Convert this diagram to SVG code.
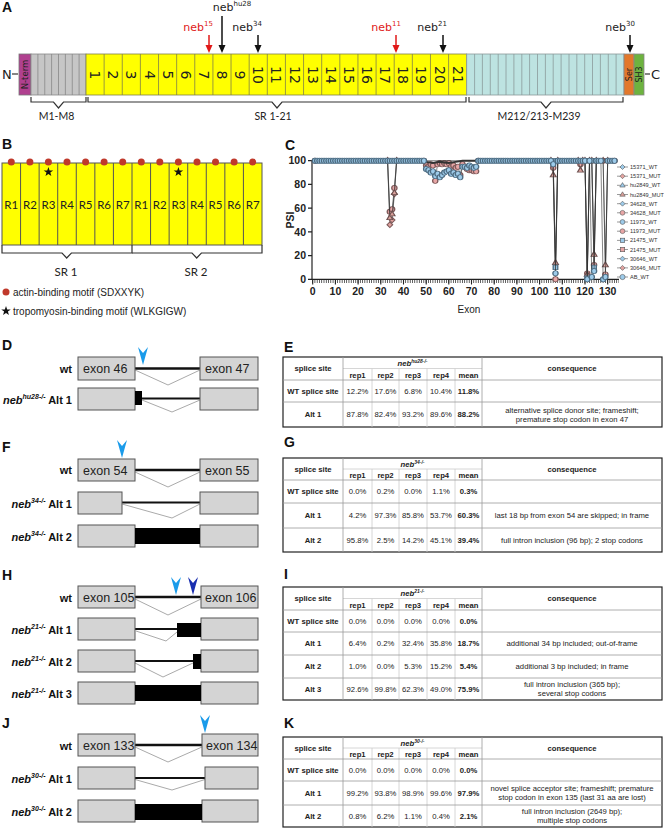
<svg xmlns="http://www.w3.org/2000/svg" width="664" height="828" viewBox="0 0 664 828">
<style>
.pl{font:bold 14px "Liberation Sans",Arial,sans-serif;fill:#111}
.dv{font-family:"DejaVu Sans",Verdana,sans-serif;fill:#222}
.num{font:14px "DejaVu Sans",Verdana,sans-serif;fill:#222;text-anchor:middle;dominant-baseline:central}
.os{font-family:Lato,"Open Sans",sans-serif;fill:#222}
.ls{font-family:"Liberation Sans",Arial,sans-serif;fill:#222}
.br{fill:none;stroke:#333;stroke-width:1.2}
.ex{fill:#d4d4d4;stroke:#555;stroke-width:1}
.intr{stroke:#111;stroke-width:2.5}
.thin{stroke:#111;stroke-width:2}
.sp{fill:none;stroke:#aaa;stroke-width:1}
.lab{font:bold 11px "Liberation Sans",Arial,sans-serif;text-anchor:end;fill:#111}
.ext{font:12.5px "Liberation Sans",Arial,sans-serif;fill:#222}
.tbox{fill:#fff;stroke:#222;stroke-width:1.2}
.tl{fill:none;stroke:#999;stroke-width:0.8}
.tli{fill:none;stroke:#ccc;stroke-width:0.8}
.tt{font:7.7px "Liberation Sans",Arial,sans-serif;fill:#222;text-anchor:middle}
.b{font-weight:bold}
.dl{fill:none;stroke:#333;stroke-width:0.6;vector-effect:non-scaling-stroke}
.ax{font:bold 10.5px "Liberation Sans",Arial,sans-serif;fill:#222}
.lg{font:5.6px "Liberation Sans",Arial,sans-serif;fill:#333}
</style>
<defs>
<polygon id="star" points="0,-5 1.18,-1.62 4.76,-1.55 1.9,0.62 2.94,4.05 0,2 -2.94,4.05 -1.9,0.62 -4.76,-1.55 -1.18,-1.62" fill="#111"/>
<path id="bah" d="M-5,-18 L0,-12 L5,-18 L0,0 Z"/>
<marker id="mcb" markerUnits="userSpaceOnUse" overflow="visible"><ellipse rx="1.15" ry="2.2" fill="#9dcbea" stroke="#4d6b80" stroke-width="0.6" vector-effect="non-scaling-stroke"/></marker>
<marker id="mcp" markerUnits="userSpaceOnUse" overflow="visible"><ellipse rx="1.15" ry="2.2" fill="#e8a6a6" stroke="#7d5a5a" stroke-width="0.6" vector-effect="non-scaling-stroke"/></marker>
<marker id="mdp" markerUnits="userSpaceOnUse" overflow="visible"><polygon points="0,2.4 1.25,0 0,-2.4 -1.25,0" fill="#e3a3a0" stroke="#7d5a5a" stroke-width="0.6" vector-effect="non-scaling-stroke"/></marker>
<marker id="mtb" markerUnits="userSpaceOnUse" overflow="visible"><polygon points="0,2.6 1.3,-1.6 -1.3,-1.6" fill="#d9a09a" stroke="#6d5050" stroke-width="0.6" vector-effect="non-scaling-stroke"/></marker>
<marker id="msb" markerUnits="userSpaceOnUse" overflow="visible"><rect x="-1" y="-1.9" width="2" height="3.8" fill="#9dcbea" stroke="#4d6b80" stroke-width="0.6" vector-effect="non-scaling-stroke"/></marker>
</defs>
<rect width="664" height="828" fill="#fff"/>

<g id="panelA">
<text class="pl" x="2" y="12">A</text>
<text class="dv" x="2" y="79" font-size="13">N</text>
<line x1="12" y1="74" x2="18" y2="74" stroke="#333" stroke-width="1.2"/>
<rect x="19" y="54" width="12" height="41" fill="#b0408f" stroke="#777" stroke-width="0.8"/>
<text class="dv" font-size="8.5" text-anchor="middle" dominant-baseline="central" transform="translate(25 74.5) rotate(-90)">N-term</text>
<rect x="31" y="54" width="55" height="41" fill="#c6c6c6" stroke="#888" stroke-width="0.8"/>
<path d="M37.9,54V95M44.75,54V95M51.6,54V95M58.5,54V95M65.4,54V95M72.25,54V95M79.1,54V95" stroke="#888" stroke-width="0.8"/>
<rect x="86" y="54" width="380.7" height="41" fill="#ffff00" stroke="#80804a" stroke-width="0.8"/>
<path d="M104.13,54V95M122.26,54V95M140.39,54V95M158.52,54V95M176.65,54V95M194.78,54V95M212.91,54V95M231.04,54V95M249.17,54V95M267.3,54V95M285.43,54V95M303.56,54V95M321.69,54V95M339.82,54V95M357.95,54V95M376.08,54V95M394.21,54V95M412.34,54V95M430.47,54V95M448.6,54V95" stroke="#80804a" stroke-width="0.8"/>
<rect x="466.7" y="54" width="157.3" height="41" fill="#bde3e1" stroke="#8a9a9a" stroke-width="0.8"/>
<path d="M474.6,54V95M482.4,54V95M490.3,54V95M498.2,54V95M506,54V95M513.9,54V95M521.8,54V95M529.6,54V95M537.5,54V95M545.4,54V95M553.2,54V95M561.1,54V95M569,54V95M576.8,54V95M584.7,54V95M592.5,54V95M600.4,54V95M608.3,54V95M616.1,54V95" stroke="#8a9a9a" stroke-width="0.8"/>
<rect x="624" y="54" width="10" height="41" fill="#e2782b" stroke="#888" stroke-width="0.8"/>
<rect x="634" y="54" width="10" height="41" fill="#6db33f" stroke="#888" stroke-width="0.8"/>
<text class="dv" font-size="8" text-anchor="middle" dominant-baseline="central" transform="translate(629 74.5) rotate(-90)">Ser</text>
<text class="dv" font-size="8" text-anchor="middle" dominant-baseline="central" transform="translate(639 74.5) rotate(-90)">SH3</text>
<line x1="645" y1="74" x2="650" y2="74" stroke="#333" stroke-width="1.2"/>
<text class="dv" x="651" y="79" font-size="13">C</text>
<g>
<text class="num" transform="translate(95.07 75) rotate(90)">1</text>
<text class="num" transform="translate(113.2 75) rotate(90)">2</text>
<text class="num" transform="translate(131.3 75) rotate(90)">3</text>
<text class="num" transform="translate(149.5 75) rotate(90)">4</text>
<text class="num" transform="translate(167.6 75) rotate(90)">5</text>
<text class="num" transform="translate(185.7 75) rotate(90)">6</text>
<text class="num" transform="translate(203.8 75) rotate(90)">7</text>
<text class="num" transform="translate(222 75) rotate(90)">8</text>
<text class="num" transform="translate(240.1 75) rotate(90)">9</text>
<text class="num" transform="translate(258.2 75) rotate(90)">10</text>
<text class="num" transform="translate(276.4 75) rotate(90)">11</text>
<text class="num" transform="translate(294.5 75) rotate(90)">12</text>
<text class="num" transform="translate(312.6 75) rotate(90)">13</text>
<text class="num" transform="translate(330.8 75) rotate(90)">14</text>
<text class="num" transform="translate(348.9 75) rotate(90)">15</text>
<text class="num" transform="translate(367 75) rotate(90)">16</text>
<text class="num" transform="translate(385.1 75) rotate(90)">17</text>
<text class="num" transform="translate(403.3 75) rotate(90)">18</text>
<text class="num" transform="translate(421.4 75) rotate(90)">19</text>
<text class="num" transform="translate(439.5 75) rotate(90)">20</text>
<text class="num" transform="translate(457.7 75) rotate(90)">21</text>
</g>
<g id="mutations">
<text class="dv" x="232" y="11" font-size="11" text-anchor="middle">neb<tspan font-size="7" dy="-5">hu28</tspan></text>
<line x1="222" y1="16" x2="222" y2="46" stroke="#111" stroke-width="1.5"/><polygon points="218.5,45 225.5,45 222,53" fill="#111"/>
<text class="dv" x="213" y="31" font-size="11" text-anchor="end" style="fill:#e01818">neb<tspan font-size="7" dy="-5">15</tspan></text>
<line x1="209" y1="35" x2="209" y2="46" stroke="#e01818" stroke-width="1.5"/><polygon points="205.5,45 212.5,45 209,53" fill="#e01818"/>
<text class="dv" x="262" y="31" font-size="11" text-anchor="end">neb<tspan font-size="7" dy="-5">34</tspan></text>
<line x1="258" y1="35" x2="258" y2="46" stroke="#111" stroke-width="1.5"/><polygon points="254.5,45 261.5,45 258,53" fill="#111"/>
<text class="dv" x="401" y="31" font-size="11" text-anchor="end" style="fill:#e01818">neb<tspan font-size="7" dy="-5">11</tspan></text>
<line x1="396" y1="35" x2="396" y2="46" stroke="#e01818" stroke-width="1.5"/><polygon points="392.5,45 399.5,45 396,53" fill="#e01818"/>
<text class="dv" x="447" y="31" font-size="11" text-anchor="end">neb<tspan font-size="7" dy="-5">21</tspan></text>
<line x1="443" y1="35" x2="443" y2="46" stroke="#111" stroke-width="1.5"/><polygon points="439.5,45 446.5,45 443,53" fill="#111"/>
<text class="dv" x="635" y="31" font-size="11" text-anchor="end">neb<tspan font-size="7" dy="-5">30</tspan></text>
<line x1="630" y1="35" x2="630" y2="46" stroke="#111" stroke-width="1.5"/><polygon points="626.5,45 633.5,45 630,53" fill="#111"/>
</g>
<path class="br" d="M31,97V102H53.5L58.5,108L63.5,102H86V97"/>
<path class="br" d="M88,97V102H272L277,108L282,102H466V97"/>
<path class="br" d="M469,97V102H541L546,108L551,102H623V97"/>
<text class="os" x="56.5" y="120" font-size="10.5" text-anchor="middle">M1-M8</text>
<text class="os" x="273" y="120" font-size="10.5" text-anchor="middle">SR 1-21</text>
<text class="os" x="539" y="120" font-size="10.5" text-anchor="middle">M212/213-M239</text>
</g>

<g id="panelB">
<text class="pl" x="2" y="149">B</text>
<rect x="2" y="163" width="260" height="82" fill="#ffff00" stroke="#555" stroke-width="1"/>
<path d="M20.57,163V245M39.14,163V245M57.71,163V245M76.28,163V245M94.85,163V245M113.42,163V245M132,163V245M150.57,163V245M169.14,163V245M187.71,163V245M206.28,163V245M224.85,163V245M243.42,163V245" stroke="#555" stroke-width="1"/>
<g fill="#c0392b">
<circle cx="11.3" cy="162" r="3.5"/><circle cx="29.9" cy="162" r="3.5"/><circle cx="48.4" cy="162" r="3.5"/><circle cx="67" cy="162" r="3.5"/><circle cx="85.6" cy="162" r="3.5"/><circle cx="104.1" cy="162" r="3.5"/><circle cx="122.7" cy="162" r="3.5"/><circle cx="141.3" cy="162" r="3.5"/><circle cx="159.8" cy="162" r="3.5"/><circle cx="178.4" cy="162" r="3.5"/><circle cx="197" cy="162" r="3.5"/><circle cx="215.5" cy="162" r="3.5"/><circle cx="234.1" cy="162" r="3.5"/><circle cx="252.7" cy="162" r="3.5"/>
</g>
<use href="#star" x="48.4" y="172"/>
<use href="#star" x="178.4" y="172"/>
<g class="os" font-size="11.5" text-anchor="middle">
<text x="11.3" y="209">R1</text><text x="29.9" y="209">R2</text><text x="48.4" y="209">R3</text><text x="67" y="209">R4</text><text x="85.6" y="209">R5</text><text x="104.1" y="209">R6</text><text x="122.7" y="209">R7</text>
<text x="141.3" y="209">R1</text><text x="159.8" y="209">R2</text><text x="178.4" y="209">R3</text><text x="197" y="209">R4</text><text x="215.5" y="209">R5</text><text x="234.1" y="209">R6</text><text x="252.7" y="209">R7</text>
</g>
<path class="br" d="M2,245V253H62L66.7,258L71.4,253H132V245"/>
<path class="br" d="M132,253H192L196.7,258L201.4,253H262V245"/>
<text class="os" x="66" y="276" font-size="11.5" text-anchor="middle">SR 1</text>
<text class="os" x="196" y="276" font-size="11.5" text-anchor="middle">SR 2</text>
<circle cx="6" cy="292" r="3.5" fill="#c0392b"/>
<text class="ls" x="13" y="295.5" font-size="10">actin-binding motif (SDXXYK)</text>
<use href="#star" x="6" y="311"/>
<text class="ls" x="13" y="314.5" font-size="10">tropomyosin-binding motif (WLKGIGW)</text>
</g>

<g id="panelC">
<text class="pl" x="285" y="150">C</text>
<line x1="312" y1="160" x2="312" y2="279.3" stroke="#222" stroke-width="1.2"/>
<path d="M308,279.3H312M308,255.6H312M308,231.9H312M308,208.1H312M308,184.4H312M308,160.7H312" stroke="#222" stroke-width="1.2"/>
<g class="ax" text-anchor="end">
<text x="306" y="283">0</text><text x="306" y="259.3">20</text><text x="306" y="235.6">40</text><text x="306" y="211.8">60</text><text x="306" y="188.1">80</text><text x="306" y="164.4">100</text>
</g>
<text class="ax" transform="translate(294 220) rotate(-90)" text-anchor="middle">PSI</text>
<line x1="312" y1="279.3" x2="619" y2="279.3" stroke="#222" stroke-width="1.2"/>
<line x1="312.3" y1="281.2" x2="619" y2="281.2" stroke="#222" stroke-width="3.6" stroke-dasharray="0.7 1.569"/>
<path d="M312.7,279V284.5M335.4,279V284.5M358.1,279V284.5M380.8,279V284.5M403.5,279V284.5M426.2,279V284.5M448.8,279V284.5M471.5,279V284.5M494.2,279V284.5M516.9,279V284.5M539.6,279V284.5M562.3,279V284.5M585,279V284.5M607.7,279V284.5" stroke="#222" stroke-width="1.1"/>
<g class="ax" font-size="10" text-anchor="middle">
<text x="312.7" y="295">0</text><text x="335.4" y="295">10</text><text x="358.1" y="295">20</text><text x="380.8" y="295">30</text><text x="403.5" y="295">40</text><text x="426.2" y="295">50</text><text x="448.8" y="295">60</text><text x="471.5" y="295">70</text><text x="494.2" y="295">80</text><text x="516.9" y="295">90</text><text x="539.6" y="295">100</text><text x="562.3" y="295">110</text><text x="585" y="295">120</text><text x="607.7" y="295">130</text>
</g>
<text class="ls" x="469" y="313" font-size="10" text-anchor="middle">Exon</text>
<g id="plotdata" transform="translate(312.7 279.3) scale(2.269 -1.186)">
<polyline class="dl" marker-start="url(#mcp)" marker-mid="url(#mcp)" marker-end="url(#mcp)" points="1,100 33,100 34,57 35,59 36,77 37,100 49,100 50,96 51,95 52,97 53,96 54,83 55,97 56,98 57,97 58,98 59,97 60,98 61,95 62,96 63,94 64,95 65,88 66,97 67,95 68,93 69,92 70,92 71,91 72,91 73,100 105,100 106,94 107,0 108,100 117,100 118,97 119,100 120,100 121,5 122,100 123,100 124,12 125,100 128,100 129,4 130,100 133,100"/>
<polyline class="dl" marker-start="url(#mdp)" marker-mid="url(#mdp)" marker-end="url(#mdp)" points="33,100 34,46 35,50 36,72 37,100"/>
<polyline class="dl" marker-start="url(#mtb)" marker-mid="url(#mtb)" marker-end="url(#mtb)" points="33,100 34,52 35,55 36,73 37,100 105,100 106,88 107,14 108,100 117,100 118,92 119,100 120,100 121,4 122,100 123,100 124,21 125,100 128,100 129,12 130,100"/>
<polyline class="dl" marker-start="url(#msb)" marker-mid="url(#msb)" marker-end="url(#msb)" points="106,100 107,10 108,100 120,100 121,1 122,100 123,100 124,10 125,100"/>
<polyline class="dl" points="50,99 53,98 56,99 60,98 63,99 66,100 72,100" style="stroke-width:2"/>
<polyline class="dl" marker-start="url(#mcb)" marker-mid="url(#mcb)" marker-end="url(#mcb)" points="1,100 2,100 3,100 4,100 5,100 6,100 7,100 8,100 9,100 10,100 11,100 12,100 13,100 14,100 15,100 16,100 17,100 18,100 19,100 20,100 21,100 22,100 23,100 24,100 25,100 26,100 27,100 28,100 29,100 30,100 31,100 32,100 33,100 34,100 35,100 36,100 37,100 38,100 39,100 40,100 41,100 42,100 43,100 44,100 45,100 46,100 47,100 48,100 49,100 50,93 51,92 52,90 53,91 54,87 55,89 56,86 57,88 58,90 59,91 60,92 61,89 62,90 63,88 64,89 65,86 66,95 67,95 68,94 69,96 70,95 71,94 72,95 73,100 74,100 75,100 76,100 77,100 78,100 79,100 80,100 81,100 82,100 83,100 84,100 85,100 86,100 87,100 88,100 89,100 90,100 91,100 92,100 93,100 94,100 95,100 96,100 97,100 98,100 99,100 100,100 101,100 102,100 103,100 104,100 105,100 106,97 107,5 108,100 109,100 110,100 111,100 112,100 113,100 114,100 115,100 116,100 117,100 118,100 119,100 120,100 121,0 122,100 123,2 124,7 125,100 126,100 127,100 128,0 129,2 130,100 131,100 132,100 133,100"/>
</g>
<g id="legend">
<path d="M617,167H628M617,176.2H628M617,185.3H628M617,194.5H628M617,203.7H628M617,212.8H628M617,222H628M617,231.2H628M617,240.4H628M617,249.5H628M617,258.7H628M617,267.9H628M617,277H628" stroke="#555" stroke-width="0.6"/>
<g stroke="#555" stroke-width="0.6">
<polygon points="622.5,164.5 625,167 622.5,169.5 620,167" fill="#9dcbea"/>
<polygon points="622.5,173.7 625,176.2 622.5,178.7 620,176.2" fill="#e3a3a0"/>
<polygon points="622.5,182.6 625.2,187 619.8,187" fill="#9dcbea"/>
<polygon points="622.5,191.8 625.2,196.2 619.8,196.2" fill="#d9a09a"/>
<polygon points="622.5,201.2 625,203.7 622.5,206.2 620,203.7" fill="#9dcbea"/>
<circle cx="622.5" cy="212.8" r="2.4" fill="#e8a6a6"/>
<circle cx="622.5" cy="222" r="2.4" fill="#9dcbea"/>
<circle cx="622.5" cy="231.2" r="2.4" fill="#e8a6a6"/>
<rect x="620.3" y="238.2" width="4.4" height="4.4" fill="#9dcbea"/>
<rect x="620.3" y="247.3" width="4.4" height="4.4" fill="#e8a6a6"/>
<polygon points="622.5,256.2 625,258.7 622.5,261.2 620,258.7" fill="#9dcbea"/>
<polygon points="622.5,265.4 625,267.9 622.5,270.4 620,267.9" fill="#e3a3a0"/>
<circle cx="622.5" cy="277" r="2.6" fill="#9dcbea"/>
</g>
<g class="lg">
<text x="630" y="169">15371_WT</text><text x="630" y="178.2">15371_MUT</text><text x="630" y="187.3">hu2849_WT</text><text x="630" y="196.5">hu2849_MUT</text><text x="630" y="205.7">34628_WT</text><text x="630" y="214.8">34628_MUT</text><text x="630" y="224">11973_WT</text><text x="630" y="233.2">11973_MUT</text><text x="630" y="242.4">21475_WT</text><text x="630" y="251.5">21475_MUT</text><text x="630" y="260.7">30646_WT</text><text x="630" y="269.9">30646_MUT</text><text x="630" y="279">AB_WT</text>
</g>
</g>
</g>

<g id="panelD">
<text class="pl" x="2" y="350">D</text>
<text class="lab" x="72" y="373">wt</text>
<line class="intr" x1="135" y1="368.5" x2="200" y2="368.5"/>
<polyline class="sp" points="135,370 168,385 200,370"/>
<rect class="ex" x="78" y="357" width="57" height="23"/><rect class="ex" x="200" y="357" width="58" height="23"/>
<text class="ext" x="83" y="373">exon 46</text><text class="ext" x="205" y="373">exon 47</text>
<use href="#bah" x="143" y="365" fill="#1a9bea"/>
<text class="lab" x="72" y="403.5"><tspan font-style="italic">neb</tspan><tspan font-style="italic" font-size="7" dy="-5">hu28-/-</tspan><tspan dy="5"> Alt 1</tspan></text>
<line class="thin" x1="142" y1="398.5" x2="200" y2="398.5"/>
<polyline class="sp" points="142,400 172,412 200,400"/>
<rect class="ex" x="78" y="388" width="57" height="22"/><rect class="ex" x="200" y="388" width="58" height="22"/>
<rect x="135" y="391" width="7" height="14" fill="#000"/>
</g>

<g id="panelF">
<text class="pl" x="2" y="452">F</text>
<text class="lab" x="72" y="474">wt</text>
<line class="intr" x1="135" y1="470" x2="200" y2="470"/>
<polyline class="sp" points="135,472 168,487 200,472"/>
<rect class="ex" x="78" y="459" width="57" height="22"/><rect class="ex" x="200" y="459" width="58" height="22"/>
<text class="ext" x="83" y="474.5">exon 54</text><text class="ext" x="205" y="474.5">exon 55</text>
<use href="#bah" x="122" y="458" fill="#1a9bea"/>
<text class="lab" x="72" y="507.5"><tspan font-style="italic">neb</tspan><tspan font-style="italic" font-size="7" dy="-5">34-/-</tspan><tspan dy="5"> Alt 1</tspan></text>
<line class="thin" x1="122" y1="502.5" x2="200" y2="502.5"/>
<polyline class="sp" points="122,504 172,518 200,504"/>
<rect class="ex" x="78" y="492" width="44" height="22"/><rect class="ex" x="200" y="492" width="58" height="22"/>
<text class="lab" x="72" y="540.5"><tspan font-style="italic">neb</tspan><tspan font-style="italic" font-size="7" dy="-5">34-/-</tspan><tspan dy="5"> Alt 2</tspan></text>
<rect class="ex" x="78" y="525" width="57" height="22"/><rect class="ex" x="200" y="525" width="58" height="22"/>
<rect x="135" y="528" width="65" height="16" fill="#000"/>
</g>

<g id="panelH">
<text class="pl" x="2" y="580">H</text>
<text class="lab" x="72" y="601.5">wt</text>
<line class="intr" x1="135" y1="597" x2="201" y2="597"/>
<polyline class="sp" points="135,599 168,615 201,599"/>
<rect class="ex" x="78" y="586" width="57" height="22"/><rect class="ex" x="201" y="586" width="57" height="22"/>
<text class="ext" x="83" y="601.5">exon 105</text><text class="ext" x="205" y="601.5">exon 106</text>
<use href="#bah" x="176" y="595" fill="#1a9bea"/>
<use href="#bah" x="193" y="595" fill="#1a2fb0"/>
<text class="lab" x="72" y="633.5"><tspan font-style="italic">neb</tspan><tspan font-style="italic" font-size="7" dy="-5">21-/-</tspan><tspan dy="5"> Alt 1</tspan></text>
<line class="thin" x1="135" y1="629" x2="177" y2="629"/>
<polyline class="sp" points="136,631 166,641 177,632"/>
<rect class="ex" x="78" y="618" width="57" height="22"/><rect class="ex" x="201" y="618" width="57" height="22"/>
<rect x="177" y="623" width="24" height="14" fill="#000"/>
<text class="lab" x="72" y="665.5"><tspan font-style="italic">neb</tspan><tspan font-style="italic" font-size="7" dy="-5">21-/-</tspan><tspan dy="5"> Alt 2</tspan></text>
<line class="thin" x1="135" y1="661" x2="193" y2="661"/>
<polyline class="sp" points="135,663 163,677 193,663"/>
<rect class="ex" x="78" y="650" width="57" height="22"/><rect class="ex" x="201" y="650" width="57" height="22"/>
<rect x="193" y="654" width="8" height="15" fill="#000"/>
<text class="lab" x="72" y="697.5"><tspan font-style="italic">neb</tspan><tspan font-style="italic" font-size="7" dy="-5">21-/-</tspan><tspan dy="5"> Alt 3</tspan></text>
<rect class="ex" x="78" y="682" width="57" height="22"/><rect class="ex" x="201" y="682" width="57" height="22"/>
<rect x="135" y="685" width="66" height="16" fill="#000"/>
</g>

<g id="panelJ">
<text class="pl" x="2" y="728">J</text>
<text class="lab" x="72" y="749.5">wt</text>
<line class="intr" x1="135" y1="745" x2="202" y2="745"/>
<polyline class="sp" points="135,747 168,762 202,747"/>
<rect class="ex" x="78" y="734" width="57" height="22"/><rect class="ex" x="202" y="734" width="56" height="22"/>
<text class="ext" x="83" y="749.5">exon 133</text><text class="ext" x="206" y="749.5">exon 134</text>
<use href="#bah" x="205" y="733" fill="#1a9bea"/>
<text class="lab" x="72" y="782.5"><tspan font-style="italic">neb</tspan><tspan font-style="italic" font-size="7" dy="-5">30-/-</tspan><tspan dy="5"> Alt 1</tspan></text>
<line class="thin" x1="135" y1="778" x2="205" y2="778"/>
<polyline class="sp" points="135,779.5 172,790 205,779.5"/>
<rect class="ex" x="78" y="767" width="57" height="22"/><rect class="ex" x="205" y="767" width="53" height="22"/>
<text class="lab" x="72" y="815.5"><tspan font-style="italic">neb</tspan><tspan font-style="italic" font-size="7" dy="-5">30-/-</tspan><tspan dy="5"> Alt 2</tspan></text>
<rect class="ex" x="78" y="800" width="57" height="22"/><rect class="ex" x="202" y="800" width="56" height="22"/>
<rect x="135" y="804" width="67" height="16" fill="#000"/>
</g>

<g id="tableE">
<text class="pl" x="284" y="352">E</text>
<rect class="tbox" x="283" y="357" width="379" height="70"/>
<path class="tli" d="M343,368.5H482M372,368.5V427M399,368.5V427M427,368.5V427M455,368.5V427"/>
<path class="tl" d="M343,357V427M482,357V427M283,380H662M283,402H662"/>
<g class="tt">
<text class="b" x="313" y="371.2">splice site</text><text class="b" x="572" y="371.2">consequence</text>
<text class="b" x="412.5" y="366" font-style="italic">neb<tspan font-size="5" dy="-3">hu28-/-</tspan></text>
<text class="b" x="357.5" y="377.5">rep1</text><text class="b" x="385.5" y="377.5">rep2</text><text class="b" x="413" y="377.5">rep3</text><text class="b" x="441" y="377.5">rep4</text><text class="b" x="468.5" y="377.5">mean</text>
<text class="b" x="313" y="393.7">WT splice site</text><text x="357.5" y="393.7">12.2%</text><text x="385.5" y="393.7">17.6%</text><text x="413" y="393.7">6.8%</text><text x="441" y="393.7">10.4%</text><text class="b" x="468.5" y="393.7">11.8%</text>
<text class="b" x="313" y="417.2">Alt 1</text><text x="357.5" y="417.2">87.8%</text><text x="385.5" y="417.2">82.4%</text><text x="413" y="417.2">93.2%</text><text x="441" y="417.2">89.6%</text><text class="b" x="468.5" y="417.2">88.2%</text>
<text x="572" y="412.5">alternative splice donor site; frameshift;</text><text x="572" y="421.5">premature stop codon in exon 47</text>
</g>
</g>

<g id="tableG">
<text class="pl" x="284" y="447">G</text>
<rect class="tbox" x="283" y="458" width="379" height="94"/>
<path class="tli" d="M343,469H482M372,469V552M399,469V552M427,469V552M455,469V552"/>
<path class="tl" d="M343,458V552M482,458V552M283,480H662M283,503H662M283,528H662"/>
<g class="tt">
<text class="b" x="313" y="471.7">splice site</text><text class="b" x="572" y="471.7">consequence</text>
<text class="b" x="412.5" y="466.5" font-style="italic">neb<tspan font-size="5" dy="-3">34-/-</tspan></text>
<text class="b" x="357.5" y="477.5">rep1</text><text class="b" x="385.5" y="477.5">rep2</text><text class="b" x="413" y="477.5">rep3</text><text class="b" x="441" y="477.5">rep4</text><text class="b" x="468.5" y="477.5">mean</text>
<text class="b" x="313" y="494.2">WT splice site</text><text x="357.5" y="494.2">0.0%</text><text x="385.5" y="494.2">0.2%</text><text x="413" y="494.2">0.0%</text><text x="441" y="494.2">1.1%</text><text class="b" x="468.5" y="494.2">0.3%</text>
<text class="b" x="313" y="518.2">Alt 1</text><text x="357.5" y="518.2">4.2%</text><text x="385.5" y="518.2">97.3%</text><text x="413" y="518.2">85.8%</text><text x="441" y="518.2">53.7%</text><text class="b" x="468.5" y="518.2">60.3%</text>
<text x="572" y="518.2">last 18 bp from exon 54 are skipped; in frame</text>
<text class="b" x="313" y="542.7">Alt 2</text><text x="357.5" y="542.7">95.8%</text><text x="385.5" y="542.7">2.5%</text><text x="413" y="542.7">14.2%</text><text x="441" y="542.7">45.1%</text><text class="b" x="468.5" y="542.7">39.4%</text>
<text x="572" y="542.7">full intron inclusion (96 bp); 2 stop codons</text>
</g>
</g>

<g id="tableI">
<text class="pl" x="284" y="579">I</text>
<rect class="tbox" x="283" y="587" width="379" height="113"/>
<path class="tli" d="M343,598.5H482M372,598.5V700M399,598.5V700M427,598.5V700M455,598.5V700"/>
<path class="tl" d="M343,587V700M482,587V700M283,610H662M283,632H662M283,655H662M283,678H662"/>
<g class="tt">
<text class="b" x="313" y="601.2">splice site</text><text class="b" x="572" y="601.2">consequence</text>
<text class="b" x="412.5" y="596" font-style="italic">neb<tspan font-size="5" dy="-3">21-/-</tspan></text>
<text class="b" x="357.5" y="607.5">rep1</text><text class="b" x="385.5" y="607.5">rep2</text><text class="b" x="413" y="607.5">rep3</text><text class="b" x="441" y="607.5">rep4</text><text class="b" x="468.5" y="607.5">mean</text>
<text class="b" x="313" y="623.7">WT splice site</text><text x="357.5" y="623.7">0.0%</text><text x="385.5" y="623.7">0.0%</text><text x="413" y="623.7">0.0%</text><text x="441" y="623.7">0.0%</text><text class="b" x="468.5" y="623.7">0.0%</text>
<text class="b" x="313" y="646.2">Alt 1</text><text x="357.5" y="646.2">6.4%</text><text x="385.5" y="646.2">0.2%</text><text x="413" y="646.2">32.4%</text><text x="441" y="646.2">35.8%</text><text class="b" x="468.5" y="646.2">18.7%</text>
<text x="572" y="646.2">additional 34 bp included; out-of-frame</text>
<text class="b" x="313" y="669.2">Alt 2</text><text x="357.5" y="669.2">1.0%</text><text x="385.5" y="669.2">0.0%</text><text x="413" y="669.2">5.3%</text><text x="441" y="669.2">15.2%</text><text class="b" x="468.5" y="669.2">5.4%</text>
<text x="572" y="669.2">additional 3 bp included; in frame</text>
<text class="b" x="313" y="691.7">Alt 3</text><text x="357.5" y="691.7">92.6%</text><text x="385.5" y="691.7">99.8%</text><text x="413" y="691.7">62.3%</text><text x="441" y="691.7">49.0%</text><text class="b" x="468.5" y="691.7">75.9%</text>
<text x="572" y="687">full intron inclusion (365 bp);</text><text x="572" y="696">several stop codons</text>
</g>
</g>

<g id="tableK">
<text class="pl" x="284" y="728">K</text>
<rect class="tbox" x="283" y="737" width="379" height="90"/>
<path class="tli" d="M343,748H482M372,748V827M399,748V827M427,748V827M455,748V827"/>
<path class="tl" d="M343,737V827M482,737V827M283,759H662M283,781H662M283,805H662"/>
<g class="tt">
<text class="b" x="313" y="750.7">splice site</text><text class="b" x="572" y="750.7">consequence</text>
<text class="b" x="412.5" y="745.5" font-style="italic">neb<tspan font-size="5" dy="-3">30-/-</tspan></text>
<text class="b" x="357.5" y="756.5">rep1</text><text class="b" x="385.5" y="756.5">rep2</text><text class="b" x="413" y="756.5">rep3</text><text class="b" x="441" y="756.5">rep4</text><text class="b" x="468.5" y="756.5">mean</text>
<text class="b" x="313" y="772.7">WT splice site</text><text x="357.5" y="772.7">0.0%</text><text x="385.5" y="772.7">0.0%</text><text x="413" y="772.7">0.0%</text><text x="441" y="772.7">0.0%</text><text class="b" x="468.5" y="772.7">0.0%</text>
<text class="b" x="313" y="795.7">Alt 1</text><text x="357.5" y="795.7">99.2%</text><text x="385.5" y="795.7">93.8%</text><text x="413" y="795.7">98.9%</text><text x="441" y="795.7">99.6%</text><text class="b" x="468.5" y="795.7">97.9%</text>
<text x="572" y="791">novel splice acceptor site; frameshift; premature</text><text x="572" y="800">stop codon in exon 135 (last 31 aa are lost)</text>
<text class="b" x="313" y="818.7">Alt 2</text><text x="357.5" y="818.7">0.8%</text><text x="385.5" y="818.7">6.2%</text><text x="413" y="818.7">1.1%</text><text x="441" y="818.7">0.4%</text><text class="b" x="468.5" y="818.7">2.1%</text>
<text x="572" y="814">full intron inclusion (2649 bp);</text><text x="572" y="823">multiple stop codons</text>
</g>
</g>
</svg>
